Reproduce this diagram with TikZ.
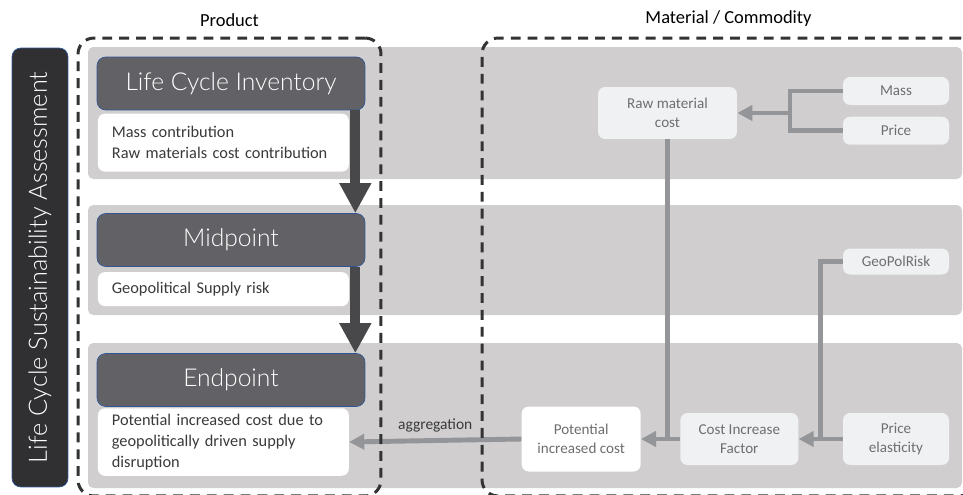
\documentclass[tikz,border=0pt]{standalone}
\usepackage{fontspec}
\setmainfont{Carlito}
\newfontfamily\lightfont{Lato}[UprightFont=* Light]
\usepackage{xcolor}
\usetikzlibrary{arrows.meta,positioning,calc}

\definecolor{bandgray}{HTML}{D0CECE}
\definecolor{headfill}{HTML}{626266}
\definecolor{headline}{HTML}{2F5597}
\definecolor{barfill}{HTML}{303032}
\definecolor{boxfill}{HTML}{F0F1F3}
\definecolor{linkgray}{HTML}{939598}
\definecolor{stagegray}{HTML}{48484A}
\definecolor{txtdark}{HTML}{3A3A3A}
\definecolor{txtlight}{HTML}{6E6E6E}

\begin{document}
\begin{tikzpicture}[
  x=0.02cm, y=-0.02cm, font=\fontsize{9.3}{11.9}\selectfont,
  band/.style={fill=bandgray, rounded corners=3pt},
  region/.style={draw=black!80, line width=1.7pt, dash pattern=on 5.6pt off 4pt, rounded corners=9pt, minimum height=9.16cm},
  title/.style={font=\fontsize{10.5}{12}\selectfont, text=black, label distance=2pt},
  bar/.style={draw=headline, fill=barfill, rounded corners=5pt, rotate=90, text=white, font=\lightfont\fontsize{14.4}{17}\selectfont, minimum width=8.78cm, minimum height=1.12cm},
  head/.style={draw=headline, fill=headfill, rounded corners=5pt, text=white, font=\lightfont\fontsize{14}{17}\selectfont, minimum width=5.36cm, minimum height=1.06cm},
  note/.style={fill=white, rounded corners=4pt, text=txtdark, align=left, text width=4.46cm, inner xsep=0.28cm},
  item/.style={fill=boxfill, rounded corners=4pt, text=txtlight, align=center, font=\fontsize{8.6}{10.8}\selectfont},
  link/.style={draw=linkgray, line width=2.8pt},
  flow/.style={link, -{Triangle[length=3mm,width=3mm]}},
  stage/.style={draw=stagegray, line width=5.6pt, -{Triangle[length=6mm,width=6mm]}}
]
\useasboundingbox (0,0) rectangle (963,494);
% grey levels behind both columns
\fill[band] (88,47) rectangle (962,179);
\fill[band] (88,205) rectangle (962,315);
\fill[band] (88,343) rectangle (962,488);

\node[bar] (lcsa) at (40,267.5) {Life Cycle Sustainability Assessment};

% product column
\node[head] (lci) at (231,83.5) {Life Cycle Inventory};
\node[note, minimum height=1.16cm, below right=1.7pt and 0.5pt of lci.south west] (lcinote) {Mass contribution\\Raw materials cost contribution};
\node[head] (mid) at (231,240) {Midpoint};
\node[note, minimum height=0.68cm, below right=2.8pt and 0.5pt of mid.south west] (midnote) {Geopolitical Supply risk};
\node[head] (end) at (231,380) {Endpoint};
\node[note, minimum height=1.28cm, below right=0.6pt and 0.5pt of end.south west] (endnote) {Potential increased cost due to\\geopolitically driven supply\\disruption};
\draw[stage] ([xshift=-0.2cm]lci.south east) -- ([xshift=-0.2cm]mid.north east);
\draw[stage] ([xshift=-0.2cm]mid.south east) -- ([xshift=-0.2cm]end.north east);

% material / commodity column
\node[item, minimum width=2.78cm, minimum height=1.04cm] (rmc) at (667.5,113) {Raw material\\cost};
\node[item, minimum width=2.12cm, minimum height=0.56cm] (mass) at (896,91) {Mass};
\node[item, minimum width=2.12cm, minimum height=0.56cm, below=2.2mm of mass] (price) {Price};
\node[item, minimum width=2.12cm, minimum height=0.52cm] (geo) at (896,261.5) {GeoPolRisk};
\node[item, minimum width=2.12cm, minimum height=1.04cm] (elast) at (896,439) {Price\\elasticity};
\node[item, minimum width=2.36cm, minimum height=1.04cm, left=8.8mm of elast] (cif) {Cost Increase\\Factor};
\node[item, fill=white, minimum width=2.38cm, minimum height=1.3cm, left=7.8mm of cif] (pic) {Potential\\increased cost};

\coordinate (split) at (790,113);
\draw[link] (mass.west) -| (split) |- (price.west);
\draw[flow] (split) -- (rmc.east);
\draw[link] (rmc.south) -- (rmc.south |- pic.east);
\draw[link] (geo.west) -| ($(cif.east)!0.5!(elast.west)$);
\draw[flow] (elast.west) -- (cif.east);
\draw[flow] (cif.west) -- (pic.east);
\draw[flow] (pic.west) -- (endnote.east) node[midway, above, text=txtdark, font=\fontsize{8.8}{10}\selectfont] {aggregation};

% dashed column frames
\node[region, minimum width=6.06cm, label={[title]above:Product}] (product) at (229.5,267) {};
\node[region, minimum width=9.86cm, label={[title]above:Material / Commodity}] (material) at (728.5,267) {};
\end{tikzpicture}
\end{document}
